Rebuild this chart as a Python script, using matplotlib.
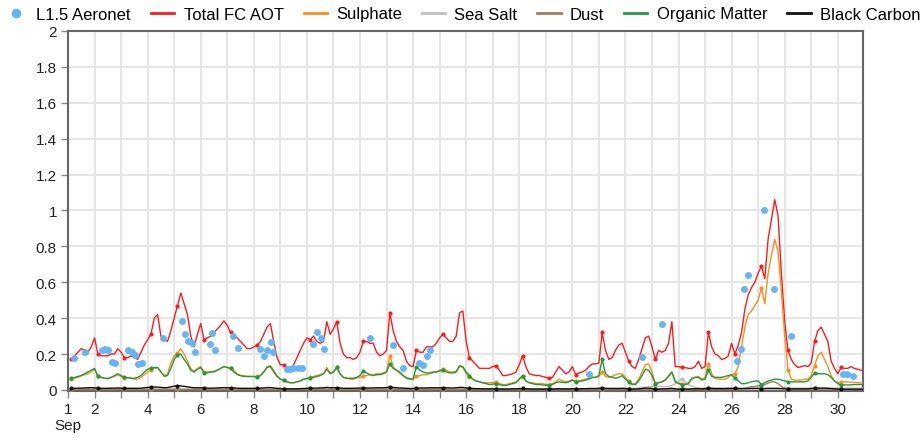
import numpy as np
import matplotlib
matplotlib.use("Agg")
from matplotlib import pyplot as plt
from matplotlib.lines import Line2D
from matplotlib.ticker import FixedLocator

plt.rcParams['font.family'] = ['Liberation Sans', 'DejaVu Sans']

# 3-hourly forecast steps, in days since 1 Sep 00Z (first step 03Z)
step_hours = np.arange(3, 721, 3)
step_days = step_hours / 24.0

# Total FC AOT, 8 values per day
total_aot = [
    0.17, 0.19, 0.21, 0.23, 0.22, 0.21, 0.24, 0.29, 0.20, 0.19, 0.19, 0.19, 0.20, 0.20, 0.23, 0.21,
    0.18, 0.18, 0.19, 0.18, 0.17, 0.21, 0.25, 0.28, 0.31, 0.40, 0.42, 0.30, 0.28, 0.27, 0.33, 0.40,
    0.47, 0.54, 0.48, 0.42, 0.30, 0.24, 0.31, 0.37, 0.28, 0.29, 0.30, 0.32, 0.34, 0.36, 0.385, 0.36,
    0.32, 0.31, 0.29, 0.27, 0.25, 0.23, 0.23, 0.24, 0.25, 0.27, 0.31, 0.35, 0.37, 0.27, 0.18, 0.14,
    0.14, 0.12, 0.11, 0.14, 0.18, 0.22, 0.26, 0.29, 0.28, 0.30, 0.27, 0.26, 0.27, 0.38, 0.31, 0.34,
    0.38, 0.26, 0.20, 0.18, 0.18, 0.17, 0.18, 0.21, 0.27, 0.27, 0.26, 0.26, 0.21, 0.19, 0.20, 0.22,
    0.43, 0.33, 0.27, 0.24, 0.22, 0.16, 0.135, 0.13, 0.22, 0.21, 0.21, 0.24, 0.24, 0.24, 0.26, 0.29,
    0.31, 0.29, 0.27, 0.27, 0.30, 0.43, 0.44, 0.27, 0.18, 0.16, 0.14, 0.12, 0.12, 0.12, 0.12, 0.13,
    0.135, 0.11, 0.08, 0.08, 0.085, 0.09, 0.10, 0.14, 0.19, 0.13, 0.09, 0.085, 0.08, 0.08, 0.075, 0.07,
    0.065, 0.07, 0.10, 0.13, 0.11, 0.09, 0.10, 0.13, 0.085, 0.095, 0.10, 0.11, 0.13, 0.145, 0.145, 0.15,
    0.32, 0.22, 0.17, 0.18, 0.22, 0.25, 0.26, 0.21, 0.16, 0.13, 0.12, 0.17, 0.23, 0.29, 0.30, 0.24,
    0.17, 0.22, 0.21, 0.22, 0.26, 0.38, 0.13, 0.13, 0.125, 0.125, 0.12, 0.12, 0.13, 0.16, 0.12, 0.13,
    0.32, 0.24, 0.20, 0.19, 0.17, 0.175, 0.19, 0.26, 0.20, 0.25, 0.32, 0.45, 0.53, 0.57, 0.60, 0.65,
    0.69, 0.62, 0.84, 0.95, 1.06, 0.97, 0.65, 0.38, 0.22, 0.17, 0.14, 0.125, 0.13, 0.135, 0.13, 0.15,
    0.27, 0.33, 0.35, 0.31, 0.27, 0.16, 0.12, 0.09, 0.125, 0.12, 0.12, 0.13, 0.12, 0.115, 0.11, 0.105,
]

sulphate = [
    0.06, 0.065, 0.07, 0.08, 0.085, 0.09, 0.10, 0.115, 0.075, 0.07, 0.065, 0.065, 0.07, 0.075, 0.085, 0.075,
    0.065, 0.07, 0.065, 0.06, 0.06, 0.07, 0.085, 0.10, 0.11, 0.12, 0.125, 0.10, 0.08, 0.09, 0.15, 0.19,
    0.205, 0.23, 0.20, 0.16, 0.12, 0.10, 0.12, 0.13, 0.10, 0.10, 0.10, 0.105, 0.11, 0.12, 0.13, 0.125,
    0.12, 0.11, 0.09, 0.08, 0.08, 0.075, 0.075, 0.075, 0.075, 0.08, 0.10, 0.13, 0.135, 0.11, 0.08, 0.06,
    0.055, 0.045, 0.04, 0.04, 0.045, 0.05, 0.06, 0.065, 0.07, 0.075, 0.08, 0.085, 0.09, 0.125, 0.095, 0.10,
    0.125, 0.09, 0.07, 0.065, 0.06, 0.06, 0.065, 0.07, 0.075, 0.08, 0.085, 0.085, 0.09, 0.09, 0.095, 0.10,
    0.19, 0.13, 0.11, 0.09, 0.08, 0.07, 0.065, 0.06, 0.075, 0.08, 0.085, 0.085, 0.09, 0.095, 0.10, 0.11,
    0.115, 0.11, 0.10, 0.10, 0.105, 0.13, 0.125, 0.09, 0.07, 0.06, 0.05, 0.045, 0.04, 0.04, 0.04, 0.04,
    0.045, 0.035, 0.03, 0.03, 0.035, 0.04, 0.045, 0.06, 0.07, 0.05, 0.04, 0.04, 0.035, 0.035, 0.035, 0.03,
    0.03, 0.035, 0.045, 0.06, 0.05, 0.045, 0.05, 0.055, 0.05, 0.05, 0.055, 0.06, 0.065, 0.07, 0.07, 0.075,
    0.10, 0.075, 0.07, 0.075, 0.085, 0.09, 0.09, 0.07, 0.05, 0.035, 0.035, 0.06, 0.10, 0.14, 0.145, 0.10,
    0.035, 0.04, 0.045, 0.055, 0.08, 0.10, 0.05, 0.04, 0.035, 0.035, 0.04, 0.06, 0.07, 0.075, 0.06, 0.07,
    0.145, 0.09, 0.065, 0.06, 0.06, 0.06, 0.07, 0.085, 0.09, 0.13, 0.24, 0.35, 0.42, 0.44, 0.47, 0.50,
    0.57, 0.48, 0.65, 0.75, 0.84, 0.77, 0.55, 0.30, 0.11, 0.06, 0.055, 0.055, 0.055, 0.06, 0.06, 0.08,
    0.135, 0.19, 0.21, 0.17, 0.13, 0.08, 0.05, 0.04, 0.045, 0.045, 0.045, 0.042, 0.042, 0.04, 0.04, 0.04,
]

sea_salt = [
    0.006, 0.006, 0.007, 0.007, 0.007, 0.007, 0.006, 0.006, 0.006, 0.005, 0.005, 0.005, 0.005, 0.005, 0.005, 0.005,
    0.005, 0.005, 0.005, 0.005, 0.005, 0.005, 0.005, 0.005, 0.005, 0.005, 0.005, 0.005, 0.005, 0.005, 0.005, 0.005,
    0.005, 0.005, 0.005, 0.005, 0.005, 0.005, 0.005, 0.005, 0.005, 0.005, 0.005, 0.005, 0.005, 0.005, 0.005, 0.005,
    0.005, 0.005, 0.005, 0.005, 0.005, 0.005, 0.005, 0.005, 0.005, 0.005, 0.005, 0.005, 0.005, 0.005, 0.005, 0.005,
    0.006, 0.006, 0.007, 0.007, 0.007, 0.007, 0.006, 0.006, 0.006, 0.006, 0.006, 0.006, 0.006, 0.006, 0.006, 0.006,
    0.006, 0.006, 0.006, 0.006, 0.006, 0.006, 0.006, 0.006, 0.006, 0.006, 0.006, 0.006, 0.006, 0.006, 0.006, 0.006,
    0.006, 0.006, 0.006, 0.006, 0.006, 0.006, 0.006, 0.006, 0.006, 0.006, 0.006, 0.006, 0.006, 0.006, 0.006, 0.006,
    0.006, 0.006, 0.006, 0.006, 0.006, 0.006, 0.006, 0.006, 0.006, 0.006, 0.006, 0.006, 0.006, 0.006, 0.006, 0.006,
    0.006, 0.006, 0.006, 0.006, 0.006, 0.006, 0.006, 0.006, 0.006, 0.006, 0.006, 0.006, 0.006, 0.006, 0.006, 0.006,
    0.006, 0.006, 0.006, 0.006, 0.006, 0.006, 0.006, 0.006, 0.006, 0.006, 0.006, 0.006, 0.006, 0.006, 0.006, 0.006,
    0.006, 0.007, 0.008, 0.008, 0.008, 0.008, 0.008, 0.008, 0.008, 0.009, 0.010, 0.012, 0.014, 0.016, 0.018, 0.020,
    0.022, 0.020, 0.018, 0.018, 0.020, 0.025, 0.035, 0.050, 0.060, 0.045, 0.030, 0.020, 0.015, 0.012, 0.010, 0.012,
    0.012, 0.012, 0.012, 0.012, 0.012, 0.012, 0.012, 0.012, 0.012, 0.011, 0.010, 0.010, 0.010, 0.010, 0.010, 0.010,
    0.010, 0.010, 0.010, 0.010, 0.010, 0.010, 0.010, 0.010, 0.010, 0.010, 0.010, 0.010, 0.010, 0.010, 0.010, 0.010,
    0.010, 0.010, 0.010, 0.010, 0.010, 0.010, 0.010, 0.010, 0.010, 0.010, 0.010, 0.010, 0.010, 0.010, 0.010, 0.010,
]

dust = [
    0.003, 0.003, 0.003, 0.003, 0.003, 0.003, 0.003, 0.003, 0.003, 0.003, 0.003, 0.003, 0.003, 0.003, 0.003, 0.003,
    0.003, 0.003, 0.003, 0.003, 0.003, 0.003, 0.003, 0.003, 0.003, 0.003, 0.003, 0.003, 0.003, 0.003, 0.003, 0.003,
    0.003, 0.003, 0.003, 0.003, 0.003, 0.003, 0.003, 0.003, 0.003, 0.003, 0.003, 0.003, 0.003, 0.003, 0.003, 0.003,
    0.003, 0.003, 0.003, 0.003, 0.003, 0.003, 0.003, 0.003, 0.003, 0.003, 0.003, 0.003, 0.003, 0.003, 0.003, 0.003,
    0.003, 0.003, 0.003, 0.003, 0.003, 0.003, 0.003, 0.003, 0.003, 0.003, 0.003, 0.003, 0.003, 0.003, 0.003, 0.003,
    0.003, 0.003, 0.003, 0.003, 0.003, 0.003, 0.003, 0.003, 0.003, 0.003, 0.003, 0.003, 0.003, 0.003, 0.003, 0.003,
    0.003, 0.003, 0.003, 0.003, 0.003, 0.003, 0.003, 0.003, 0.003, 0.003, 0.003, 0.003, 0.003, 0.003, 0.003, 0.003,
    0.003, 0.003, 0.003, 0.003, 0.003, 0.003, 0.003, 0.003, 0.003, 0.003, 0.003, 0.003, 0.003, 0.003, 0.003, 0.003,
    0.003, 0.003, 0.003, 0.003, 0.003, 0.003, 0.003, 0.003, 0.003, 0.003, 0.003, 0.003, 0.003, 0.003, 0.003, 0.003,
    0.003, 0.003, 0.003, 0.003, 0.003, 0.003, 0.003, 0.003, 0.003, 0.003, 0.003, 0.003, 0.003, 0.003, 0.003, 0.003,
    0.003, 0.003, 0.003, 0.003, 0.003, 0.003, 0.003, 0.003, 0.003, 0.003, 0.003, 0.003, 0.003, 0.003, 0.003, 0.003,
    0.003, 0.003, 0.003, 0.003, 0.003, 0.003, 0.003, 0.003, 0.003, 0.003, 0.003, 0.003, 0.003, 0.003, 0.003, 0.003,
    0.003, 0.003, 0.003, 0.003, 0.003, 0.003, 0.003, 0.003, 0.003, 0.004, 0.006, 0.010, 0.014, 0.018, 0.020, 0.022,
    0.025, 0.030, 0.038, 0.045, 0.045, 0.035, 0.020, 0.010, 0.006, 0.005, 0.004, 0.004, 0.004, 0.004, 0.004, 0.004,
    0.004, 0.004, 0.004, 0.004, 0.004, 0.004, 0.004, 0.004, 0.003, 0.003, 0.003, 0.003, 0.003, 0.003, 0.003, 0.003,
]

organic_matter = [
    0.065, 0.07, 0.075, 0.08, 0.09, 0.10, 0.11, 0.12, 0.076, 0.07, 0.065, 0.062, 0.07, 0.08, 0.09, 0.08,
    0.07, 0.068, 0.065, 0.065, 0.07, 0.08, 0.10, 0.115, 0.12, 0.125, 0.125, 0.10, 0.076, 0.08, 0.12, 0.17,
    0.195, 0.20, 0.17, 0.145, 0.11, 0.10, 0.115, 0.125, 0.095, 0.095, 0.10, 0.10, 0.11, 0.12, 0.13, 0.125,
    0.12, 0.10, 0.085, 0.08, 0.075, 0.075, 0.075, 0.075, 0.07, 0.08, 0.10, 0.125, 0.13, 0.10, 0.075, 0.06,
    0.055, 0.045, 0.04, 0.04, 0.045, 0.05, 0.06, 0.063, 0.065, 0.07, 0.075, 0.08, 0.09, 0.115, 0.09, 0.10,
    0.125, 0.09, 0.07, 0.065, 0.065, 0.065, 0.07, 0.08, 0.105, 0.095, 0.085, 0.08, 0.085, 0.085, 0.09, 0.10,
    0.145, 0.12, 0.11, 0.10, 0.08, 0.065, 0.06, 0.06, 0.13, 0.11, 0.10, 0.095, 0.095, 0.10, 0.10, 0.105,
    0.11, 0.10, 0.095, 0.095, 0.10, 0.135, 0.13, 0.10, 0.08, 0.06, 0.05, 0.045, 0.04, 0.035, 0.03, 0.032,
    0.035, 0.03, 0.025, 0.025, 0.03, 0.035, 0.04, 0.06, 0.08, 0.05, 0.04, 0.035, 0.03, 0.03, 0.028, 0.026,
    0.025, 0.03, 0.04, 0.045, 0.042, 0.04, 0.045, 0.055, 0.045, 0.048, 0.05, 0.055, 0.06, 0.07, 0.07, 0.08,
    0.17, 0.09, 0.075, 0.07, 0.065, 0.07, 0.08, 0.06, 0.045, 0.03, 0.03, 0.05, 0.08, 0.115, 0.11, 0.08,
    0.035, 0.04, 0.045, 0.055, 0.075, 0.10, 0.045, 0.035, 0.03, 0.03, 0.035, 0.065, 0.07, 0.07, 0.055, 0.06,
    0.11, 0.075, 0.07, 0.07, 0.07, 0.075, 0.08, 0.085, 0.065, 0.05, 0.035, 0.035, 0.04, 0.045, 0.05, 0.05,
    0.03, 0.04, 0.05, 0.055, 0.06, 0.06, 0.055, 0.05, 0.045, 0.045, 0.045, 0.045, 0.045, 0.045, 0.05, 0.07,
    0.095, 0.09, 0.09, 0.09, 0.085, 0.07, 0.05, 0.035, 0.028, 0.028, 0.028, 0.028, 0.03, 0.03, 0.03, 0.03,
]

black_carbon = [
    0.008, 0.009, 0.010, 0.010, 0.011, 0.012, 0.013, 0.012, 0.010, 0.009, 0.009, 0.009, 0.010, 0.010, 0.011, 0.010,
    0.009, 0.009, 0.009, 0.009, 0.009, 0.010, 0.012, 0.014, 0.015, 0.016, 0.016, 0.014, 0.012, 0.013, 0.017, 0.021,
    0.024, 0.022, 0.020, 0.017, 0.014, 0.012, 0.012, 0.012, 0.010, 0.010, 0.010, 0.010, 0.011, 0.012, 0.013, 0.012,
    0.012, 0.011, 0.010, 0.009, 0.009, 0.009, 0.009, 0.009, 0.009, 0.010, 0.011, 0.013, 0.013, 0.011, 0.009, 0.008,
    0.007, 0.006, 0.006, 0.006, 0.006, 0.007, 0.008, 0.009, 0.010, 0.010, 0.010, 0.011, 0.012, 0.014, 0.012, 0.012,
    0.013, 0.011, 0.009, 0.009, 0.009, 0.009, 0.010, 0.010, 0.011, 0.011, 0.011, 0.011, 0.012, 0.012, 0.012, 0.013,
    0.016, 0.014, 0.012, 0.011, 0.010, 0.009, 0.008, 0.008, 0.011, 0.011, 0.011, 0.011, 0.012, 0.012, 0.012, 0.012,
    0.012, 0.012, 0.011, 0.011, 0.012, 0.014, 0.014, 0.011, 0.009, 0.008, 0.007, 0.007, 0.006, 0.006, 0.006, 0.006,
    0.006, 0.005, 0.005, 0.005, 0.005, 0.006, 0.006, 0.007, 0.008, 0.006, 0.006, 0.005, 0.005, 0.005, 0.005, 0.005,
    0.005, 0.005, 0.006, 0.007, 0.006, 0.006, 0.006, 0.007, 0.006, 0.006, 0.007, 0.007, 0.008, 0.008, 0.008, 0.009,
    0.012, 0.009, 0.008, 0.008, 0.008, 0.008, 0.009, 0.008, 0.006, 0.005, 0.005, 0.006, 0.008, 0.010, 0.010, 0.008,
    0.005, 0.005, 0.006, 0.006, 0.008, 0.009, 0.006, 0.005, 0.005, 0.005, 0.005, 0.006, 0.007, 0.007, 0.006, 0.007,
    0.010, 0.008, 0.007, 0.007, 0.007, 0.007, 0.008, 0.008, 0.008, 0.008, 0.007, 0.007, 0.007, 0.008, 0.008, 0.008,
    0.007, 0.007, 0.008, 0.008, 0.008, 0.008, 0.007, 0.006, 0.006, 0.006, 0.006, 0.006, 0.006, 0.006, 0.006, 0.008,
    0.010, 0.010, 0.010, 0.010, 0.009, 0.008, 0.006, 0.005, 0.004, 0.004, 0.004, 0.004, 0.004, 0.004, 0.004, 0.004,
]

# L1.5 Aeronet observations: days since 1 Sep 00Z, AOT
aeronet_day = [
    0.23, 0.64, 1.27, 1.39, 1.52, 1.64, 1.77, 2.27, 2.40, 2.52, 2.65, 2.78, 3.59,
    4.28, 4.41, 4.53, 4.66, 4.78, 5.35, 5.41, 5.54, 6.23, 6.39, 7.23, 7.38, 7.48,
    7.63, 7.73, 8.24, 8.36, 8.49, 8.68, 8.80, 9.24, 9.39, 9.52, 9.64, 11.37, 12.25,
    12.63, 13.23, 13.36, 13.51, 13.63, 19.63, 21.61, 22.36, 25.22, 25.35, 25.47,
    25.60, 26.23, 26.59, 27.22, 29.20, 29.33, 29.58,
]
aeronet_aot = [
    0.18, 0.21, 0.22, 0.23, 0.22, 0.157, 0.15, 0.22, 0.21, 0.195, 0.145, 0.148, 0.29,
    0.385, 0.31, 0.27, 0.26, 0.21, 0.255, 0.315, 0.22, 0.30, 0.235, 0.23, 0.19, 0.22,
    0.265, 0.21, 0.117, 0.115, 0.122, 0.12, 0.12, 0.255, 0.325, 0.287, 0.228, 0.287, 0.25,
    0.122, 0.148, 0.14, 0.187, 0.224, 0.089, 0.185, 0.367, 0.16, 0.23, 0.56,
    0.64, 1.0, 0.565, 0.30, 0.089, 0.089, 0.08,
]

day_ticks = [0, 1, 3, 5, 7, 9, 11, 13, 15, 17, 19, 21, 23, 25, 27, 29]
day_labels = ['1\nSep', '2', '4', '6', '8', '10', '12', '14', '16', '18', '20',
              '22', '24', '26', '28', '30']
aot_ticks = [0, 0.2, 0.4, 0.6, 0.8, 1, 1.2, 1.4, 1.6, 1.8, 2]

series = [
    ('Total FC AOT', total_aot, '#ff1a1a'),
    ('Sulphate', sulphate, '#ff8c1a'),
    ('Sea Salt', sea_salt, '#bdbdbd'),
    ('Dust', dust, '#a67c52'),
    ('Organic Matter', organic_matter, '#1f9a3c'),
    ('Black Carbon', black_carbon, '#111111'),
]
aeronet_color = '#64b5f6'

fig = plt.figure(figsize=(9.24, 4.39), dpi=100)
ax = fig.add_axes([68 / 924, 1 - 392 / 439, (863 - 68) / 924, (392 - 32) / 439])

ax.plot(aeronet_day, aeronet_aot, linestyle='none', marker='o', markersize=5,
        markeredgewidth=0, color=aeronet_color, zorder=10)
for name, values, color in series:
    ax.plot(step_days, values, color=color, linewidth=1.0, marker='o', markersize=3,
            markeredgewidth=0, markevery=8, zorder=3)

ax.set_xlim(0, 29.95)
ax.set_ylim(-0.006, 2.0)

ax.xaxis.set_major_locator(FixedLocator(day_ticks))
ax.xaxis.set_minor_locator(FixedLocator(list(range(0, 30))))
ax.set_xticklabels(day_labels)
ax.yaxis.set_major_locator(FixedLocator(aot_ticks))
ax.set_yticklabels(['%g' % v for v in aot_ticks])

ax.grid(True, which='both', color='#e3e3e3', linewidth=1.3, zorder=0)
ax.set_axisbelow(True)
ax.tick_params(axis='both', which='both', direction='out', length=5, width=1,
               color='#888888', labelsize=11, labelcolor='#222222', pad=3)
for spine in ax.spines.values():
    spine.set_color('#666666')
    spine.set_linewidth(1.5)

# legend uses plain line swatches
handles = [Line2D([], [], linestyle='none', marker='o', markersize=7, markeredgewidth=0,
                  color=aeronet_color, label='L1.5 Aeronet')]
for name, values, color in series:
    handles.append(Line2D([], [], color=color, linewidth=2, label=name))

fig.legend(handles=handles, loc='center left', bbox_to_anchor=(4 / 924, 1 - 15 / 439),
           ncol=7, frameon=False, fontsize=12, handlelength=1.4, handletextpad=0.55,
           columnspacing=1.2, borderpad=0, borderaxespad=0)

fig.savefig('out.png', dpi=100)
